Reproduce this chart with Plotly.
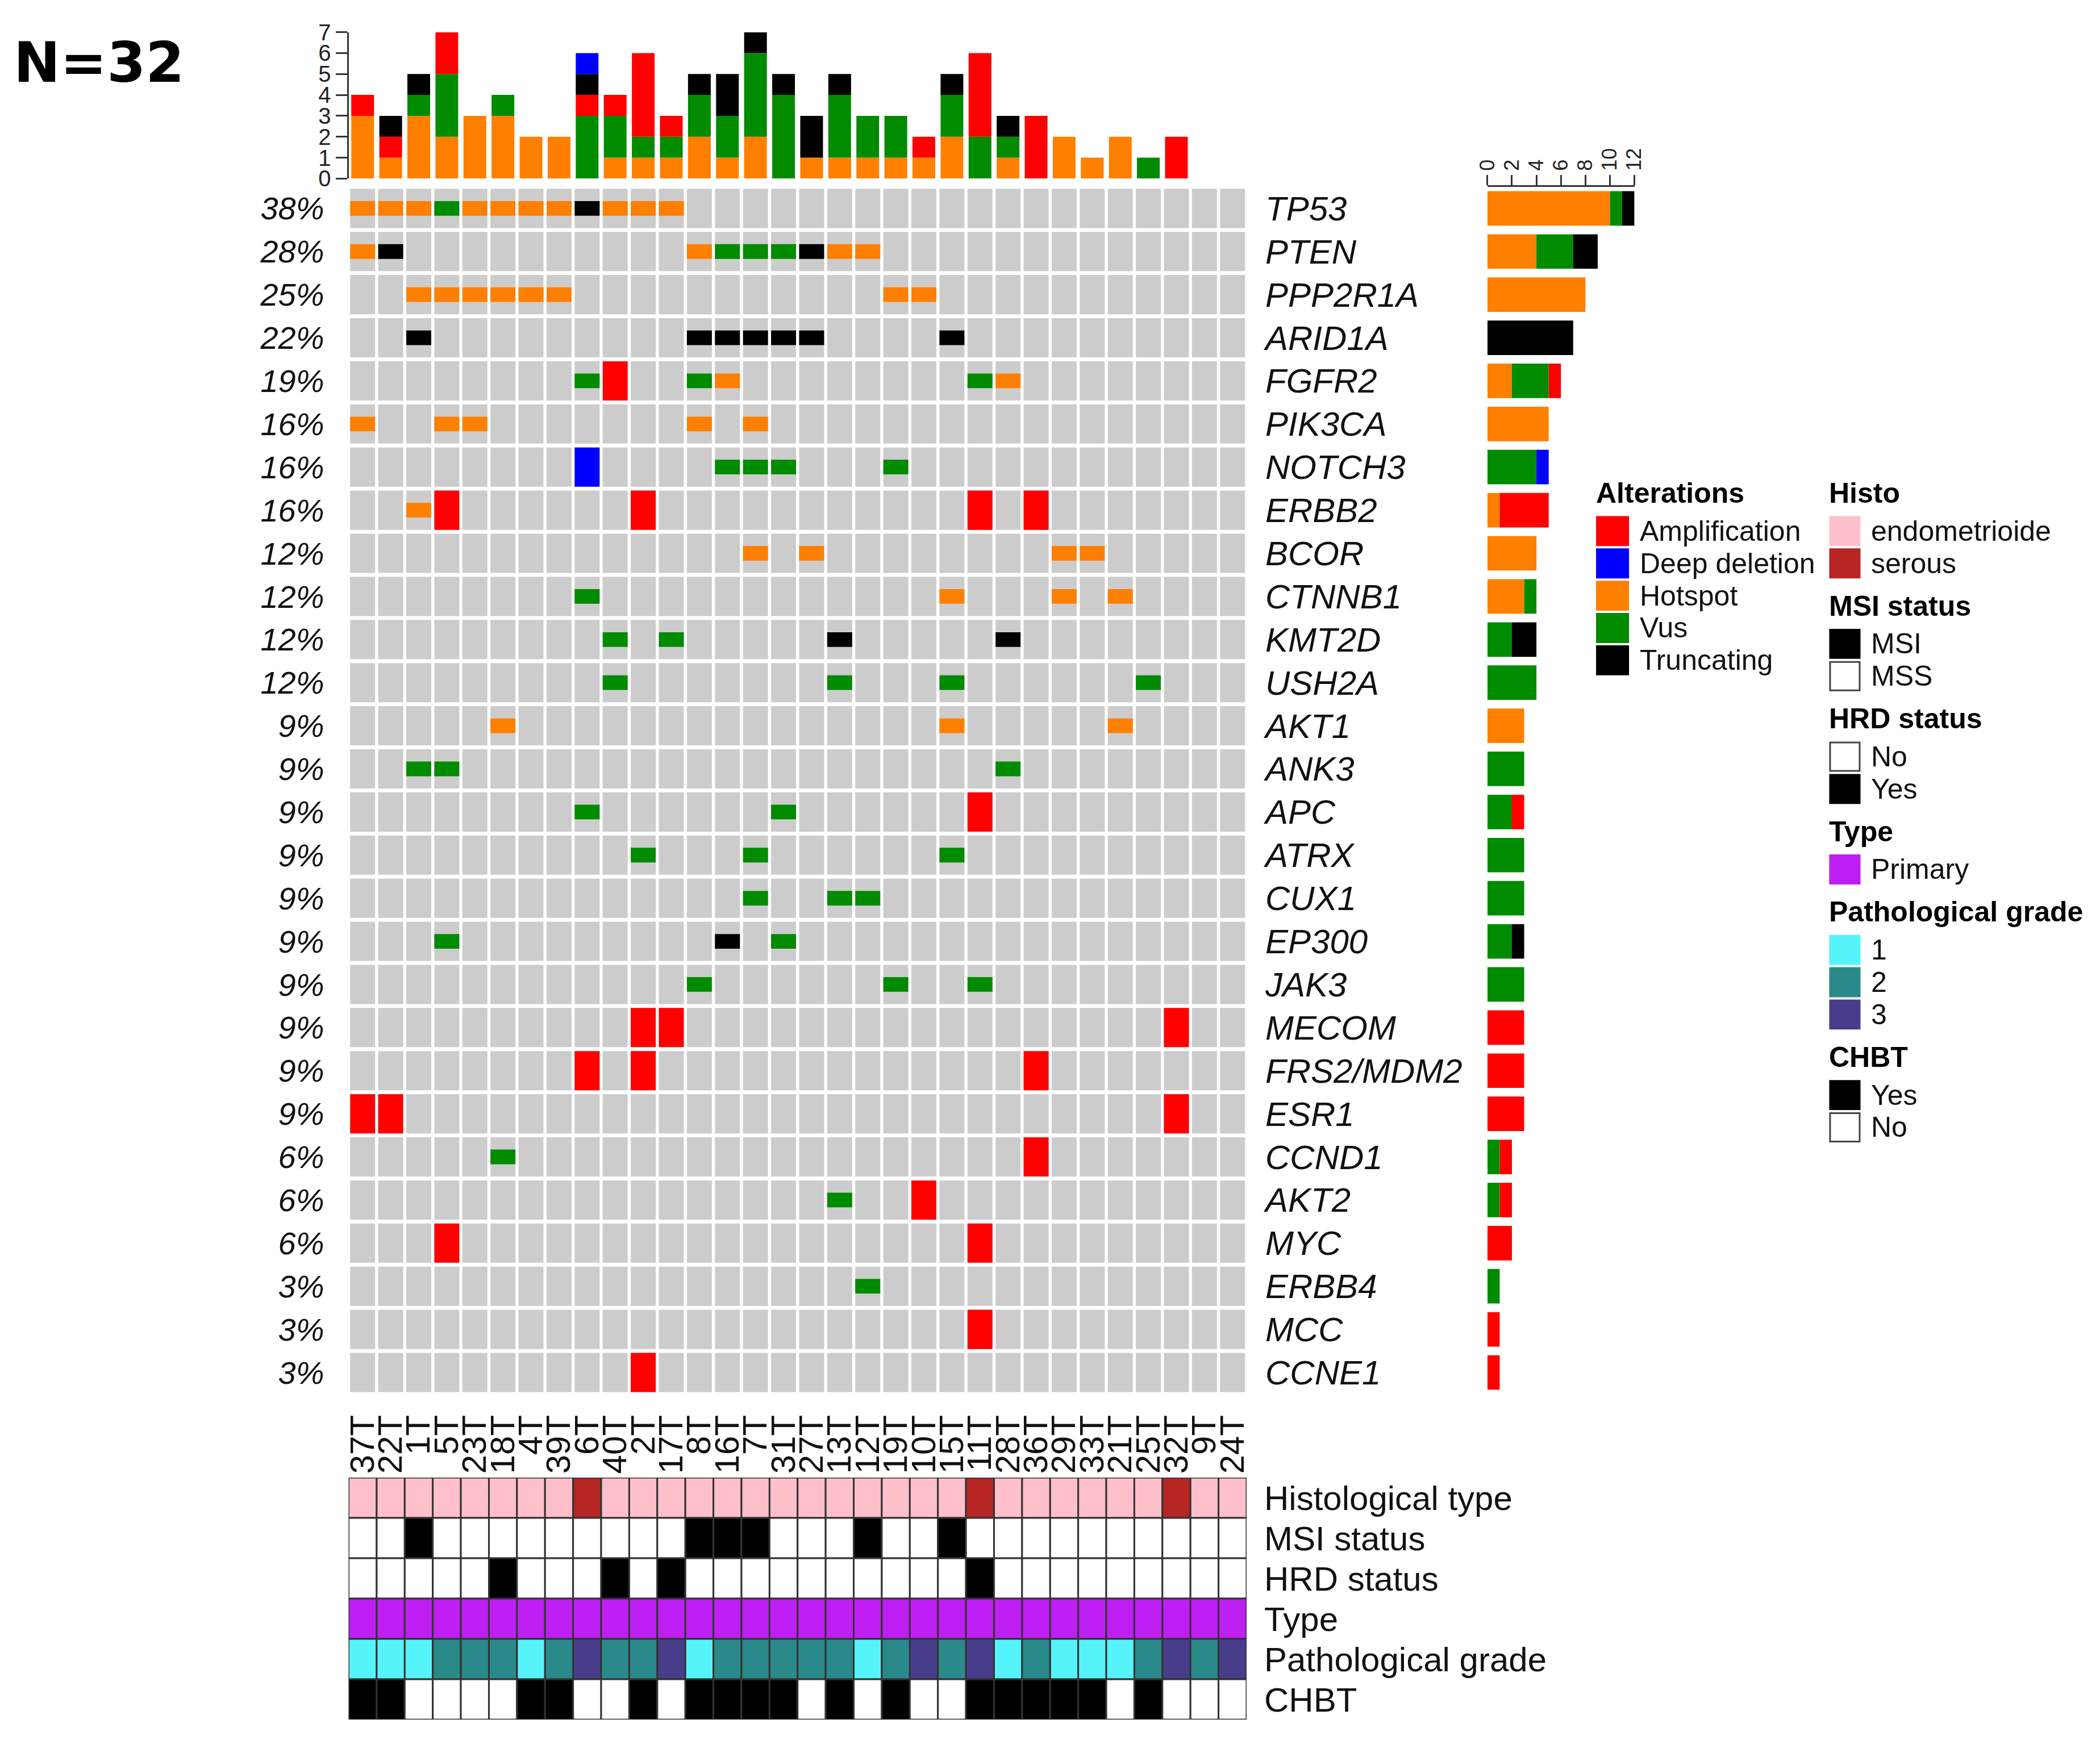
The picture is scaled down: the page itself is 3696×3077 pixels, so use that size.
import plotly.graph_objects as go

W, H = 3696, 3077

samples = ["37T", "22T", "1T", "5T", "23T", "18T", "4T", "39T",
           "6T", "40T", "2T", "17T", "8T", "16T", "7T", "31T",
           "27T", "13T", "12T", "19T", "10T", "15T", "11T", "28T",
           "36T", "29T", "33T", "21T", "25T", "32T", "9T", "24T"]

genes = ["TP53", "PTEN", "PPP2R1A", "ARID1A", "FGFR2", "PIK3CA", "NOTCH3",
         "ERBB2", "BCOR", "CTNNB1", "KMT2D", "USH2A", "AKT1", "ANK3", "APC",
         "ATRX", "CUX1", "EP300", "JAK3", "MECOM", "FRS2/MDM2", "ESR1",
         "CCND1", "AKT2", "MYC", "ERBB4", "MCC", "CCNE1"]

pct_labels = ["38%", "28%", "25%", "22%", "19%", "16%", "16%", "16%", "12%",
              "12%", "12%", "12%", "9%", "9%", "9%", "9%", "9%", "9%", "9%",
              "9%", "9%", "9%", "6%", "6%", "6%", "3%", "3%", "3%"]

# one string per gene, one char per sample (groups of 8 samples)
# H hotspot, V vus, T truncating, A amplification, D deep deletion
gene_codes = [
    "HHHVHHHH THHH.... ........ ........",  # TP53
    "HT...... ....HVVV THH..... ........",  # PTEN
    "..HHHHHH ........ ...HH... ........",  # PPP2R1A
    "..T..... ....TTTT T....T.. ........",  # ARID1A
    "........ VA..VH.. ......VH ........",  # FGFR2
    "H..HH... ....H.H. ........ ........",  # PIK3CA
    "........ D....VVV ...V.... ........",  # NOTCH3
    "..HA.... ..A..... ......A. A.......",  # ERBB2
    "........ ......H. H....... .HH.....",  # BCOR
    "........ V....... .....H.. .H.H....",  # CTNNB1
    "........ .V.V.... .T.....T ........",  # KMT2D
    "........ .V...... .V...V.. ....V...",  # USH2A
    ".....H.. ........ .....H.. ...H....",  # AKT1
    "..VV.... ........ .......V ........",  # ANK3
    "........ V......V ......A. ........",  # APC
    "........ ..V...V. .....V.. ........",  # ATRX
    "........ ......V. .VV..... ........",  # CUX1
    "...V.... .....T.V ........ ........",  # EP300
    "........ ....V... ...V..V. ........",  # JAK3
    "........ ..AA.... ........ .....A..",  # MECOM
    "........ A.A..... ........ A.......",  # FRS2/MDM2
    "AA...... ........ ........ .....A..",  # ESR1
    ".....V.. ........ ........ A.......",  # CCND1
    "........ ........ .V..A... ........",  # AKT2
    "...A.... ........ ......A. ........",  # MYC
    "........ ........ ..V..... ........",  # ERBB4
    "........ ........ ......A. ........",  # MCC
    "........ ..A..... ........ ........",  # CCNE1
]

alt_order = ["H", "V", "A", "T", "D"]          # stacking order in the bar charts
alt_legend = ["A", "D", "H", "V", "T"]         # order in the legend
alt_names = {"A": "Amplification", "D": "Deep deletion", "H": "Hotspot",
             "V": "Vus", "T": "Truncating"}
alt_colors = {"A": "#FF0000", "D": "#0000FF", "H": "#FF7F00",
              "V": "#008B00", "T": "#000000"}

# clinical tracks, one char per sample
histo = "EEEEEEEE SEEEEEEE EEEEEESE EEEEESEE"
msi = "SSMSSSSS SSSSMMMS SSMSSMSS SSSSSSSS"
hrd = "NNNNNYNN NYNYNNNN NNNNNNYN NNNNNNNN"
stype = "PPPPPPPP PPPPPPPP PPPPPPPP PPPPPPPP"
grade = "11122212 32231222 22123231 21112323"
chbt = "YYNNNNYY NNYNYYYY NYNYNNYY YYYNYNNN"

PINK, SEROUS = "#FFC0CB", "#B82525"
PURPLE = "#BE1EF2"
G1, G2, G3 = "#55F4FA", "#2A8A8A", "#483D8B"

tracks = [
    ("Histological type", histo, {"E": PINK, "S": SEROUS}),
    ("MSI status", msi, {"M": "#000000", "S": "#FFFFFF"}),
    ("HRD status", hrd, {"Y": "#000000", "N": "#FFFFFF"}),
    ("Type", stype, {"P": PURPLE}),
    ("Pathological grade", grade, {"1": G1, "2": G2, "3": G3}),
    ("CHBT", chbt, {"Y": "#000000", "N": "#FFFFFF"}),
]

legend_sections = [
    ("Histo", [("endometrioide", PINK), ("serous", SEROUS)]),
    ("MSI status", [("MSI", "#000000"), ("MSS", "#FFFFFF")]),
    ("HRD status", [("No", "#FFFFFF"), ("Yes", "#000000")]),
    ("Type", [("Primary", PURPLE)]),
    ("Pathological grade", [("1", G1), ("2", G2), ("3", G3)]),
    ("CHBT", [("Yes", "#000000"), ("No", "#FFFFFF")]),
]

codes = [s.replace(" ", "") for s in gene_codes]
tracks = [(n, s.replace(" ", ""), c) for n, s, c in tracks]
n_s, n_g = len(samples), len(genes)
assert all(len(c) == n_s for c in codes)

# pixel positions below are measured on the reference picture; the rendered
# page comes out slightly shifted/scaled, so map them back first
KX, KY, M = 31, 26, 0.988


def fx(p):
    return ((p - KX) / M) / W


def fy(p):
    return 1 - ((p - KY) / M) / H


FONT = "Liberation Sans, Arial, sans-serif"
GRAY = "#CCCCCC"
LINE = "#333333"

fig = go.Figure()

# ---- main grid: grey cells on y2 (% labels, left), alterations on y3 (genes, right) ----
cols = list(range(n_s))
rows = list(range(n_g))
CELL_H, CELL_W, MUT_H = 0.91, 0.89, 0.34

fig.add_trace(go.Bar(
    x=[c for r in rows for c in cols],
    y=[CELL_H] * (n_s * n_g),
    base=[r - CELL_H / 2 for r in rows for c in cols],
    width=CELL_W, marker=dict(color=GRAY, line=dict(width=0)),
    xaxis="x2", yaxis="y2", hoverinfo="skip", showlegend=False))

for t in alt_order:
    xs, ys, bs = [], [], []
    full = t in ("A", "D")
    h = CELL_H if full else MUT_H
    for r in rows:
        for c in cols:
            if codes[r][c] == t:
                xs.append(c)
                ys.append(h)
                bs.append(r - h / 2)
    fig.add_trace(go.Bar(
        x=xs, y=ys, base=bs, width=CELL_W,
        marker=dict(color=alt_colors[t], line=dict(width=0)),
        xaxis="x2", yaxis="y3", name=alt_names[t], showlegend=False))

# ---- top stacked bar: alterations per sample ----
cum = [0] * n_s
for t in alt_order:
    cnt = [sum(1 for r in rows if codes[r][c] == t) for c in cols]
    fig.add_trace(go.Bar(
        x=cols, y=cnt, base=list(cum), width=0.81,
        marker=dict(color=alt_colors[t], line=dict(width=0)),
        xaxis="x", yaxis="y", name=alt_names[t], showlegend=False))
    cum = [a + b for a, b in zip(cum, cnt)]

# ---- right stacked bar: alterations per gene ----
cum = [0] * n_g
for t in alt_order:
    cnt = [codes[r].count(t) for r in rows]
    fig.add_trace(go.Bar(
        y=rows, x=cnt, base=list(cum), width=0.8, orientation="h",
        marker=dict(color=alt_colors[t], line=dict(width=0)),
        xaxis="x4", yaxis="y4", name=alt_names[t], showlegend=False))
    cum = [a + b for a, b in zip(cum, cnt)]

# ---- clinical tracks ----
for k, (name, vals, cmap) in enumerate(tracks):
    fig.add_trace(go.Bar(
        x=cols, y=[1] * n_s, base=[k - 0.5] * n_s, width=1,
        marker=dict(color=[cmap[v] for v in vals], line=dict(color=LINE, width=3)),
        xaxis="x5", yaxis="y5", name=name, showlegend=False))

# ---- legends (drawn by hand, R style) ----
shapes, annos = [], []
LEG_FS = 50


def swatch(x0, yc, w, color, label):
    shapes.append(dict(type="rect", xref="paper", yref="paper",
                       x0=fx(x0), x1=fx(x0 + w), y0=fy(yc + 25), y1=fy(yc - 25),
                       fillcolor=color,
                       line=dict(color="#444444" if color == "#FFFFFF" else color, width=3)))
    annos.append(dict(text=label, x=fx(x0 + w + 18), y=fy(yc), xref="paper", yref="paper",
                      xanchor="left", yanchor="middle", showarrow=False,
                      font=dict(family=FONT, size=LEG_FS, color="#111111")))


def title(x0, yc, text):
    annos.append(dict(text="<b>" + text + "</b>", x=fx(x0), y=fy(yc), xref="paper", yref="paper",
                      xanchor="left", yanchor="middle", showarrow=False,
                      font=dict(family=FONT, size=LEG_FS, color="#000000")))


title(2806, 866, "Alterations")
for i, t in enumerate(alt_legend):
    swatch(2810, 933 + i * 57, 55, alt_colors[t], alt_names[t])

yc = 866
for sec, items in legend_sections:
    title(3216, yc, sec)
    yc += 67
    for lab, col in items:
        swatch(3220, yc, 52, col, lab)
        yc += 57
    yc += 18

annos.append(dict(text="<b>N=32</b>", x=fx(24), y=fy(106), xref="paper", yref="paper",
                  xanchor="left", yanchor="middle", showarrow=False,
                  font=dict(family="DejaVu Sans", size=98, color="#000000")))

grid_x = [fx(615), fx(2194)]
grid_y = [fy(2455.6), fy(325.6)]
noax = dict(showgrid=False, zeroline=False)

fig.update_layout(
    width=W, height=H, margin=dict(l=0, r=0, t=0, b=0),
    paper_bgcolor="white", plot_bgcolor="white",
    barmode="overlay", showlegend=False,
    font=dict(family=FONT, color="#000000"),
    shapes=shapes, annotations=annos,
    xaxis=dict(domain=grid_x, range=[-0.5, n_s - 0.5], anchor="y", visible=False, **noax),
    yaxis=dict(domain=[fy(311), fy(52.7)], range=[0, 7], anchor="x",
               showline=True, linecolor=LINE, linewidth=3,
               ticks="outside", ticklen=20, tickwidth=3, tickcolor=LINE,
               tickvals=list(range(8)), tickfont=dict(size=40, color="#222222"), **noax),
    xaxis2=dict(domain=grid_x, range=[-0.5, n_s - 0.5], anchor="y2",
                tickvals=cols, ticktext=samples, tickangle=-90, ticks="",
                ticklabelstandoff=24, tickfont=dict(size=60, color="#111111"), **noax),
    yaxis2=dict(domain=grid_y, range=[n_g - 0.5, -0.5], anchor="x2",
                tickvals=rows, ticktext=pct_labels, ticks="", ticklabelstandoff=42,
                tickfont=dict(size=56, style="italic", color="#111111"), **noax),
    yaxis3=dict(domain=grid_y, overlaying="y2", side="right", anchor="x2",
                range=[n_g - 0.5, -0.5],
                tickvals=rows, ticktext=genes, ticks="", ticklabelstandoff=32,
                tickfont=dict(size=60, style="italic", color="#111111"), **noax),
    xaxis4=dict(domain=[fx(2617.5), fx(2876)], range=[0, 12], anchor="y4", side="top",
                showline=True, linecolor=LINE, linewidth=3,
                ticks="outside", ticklen=18, tickwidth=3, tickcolor=LINE,
                tickvals=list(range(0, 13, 2)), tickangle=-90,
                tickfont=dict(size=36, color="#222222"), **noax),
    yaxis4=dict(domain=grid_y, range=[n_g - 0.5, -0.5], anchor="x4", visible=False, **noax),
    xaxis5=dict(domain=grid_x, range=[-0.5, n_s - 0.5], anchor="y5", visible=False, **noax),
    yaxis5=dict(domain=[fy(3030), fy(2603)], range=[len(tracks) - 0.5, -0.5], anchor="x5",
                side="right", tickvals=list(range(len(tracks))),
                ticktext=[t[0] for t in tracks], ticks="", ticklabelstandoff=30,
                tickfont=dict(size=60, color="#111111"), **noax),
)

fig.write_html("out.html")
